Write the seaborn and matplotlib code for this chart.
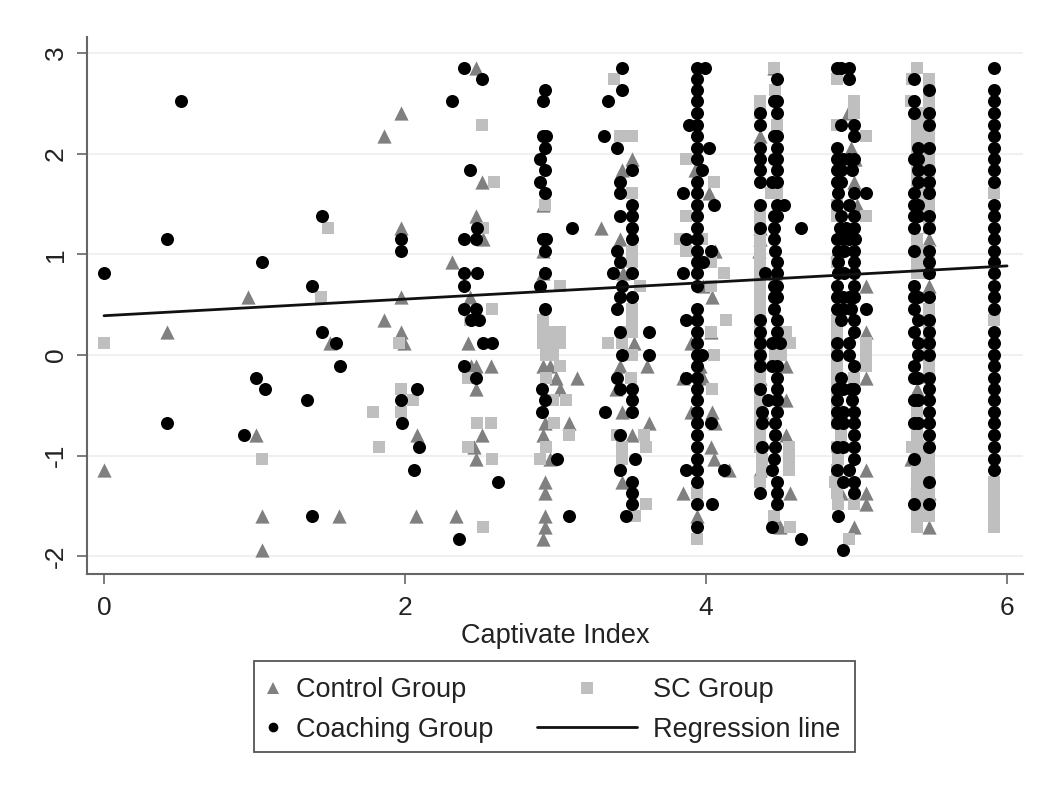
import pandas as pd
import matplotlib
matplotlib.use("Agg")
import matplotlib.pyplot as plt
from matplotlib.lines import Line2D
from matplotlib.patches import Rectangle
import seaborn as sns

# values, (captivate index, outcome)
coach_low = [(0, .81), (.51, 2.52), (.42, 1.15), (.42, -.68), (.93, -.80), (1.01, -.23), (1.07, -.34), (1.05, .92),
             (1.35, -.45), (1.38, .69), (1.38, -1.60), (1.45, 1.38), (1.45, .23), (1.54, .12), (1.57, -.11),
             (1.97, 1.15), (1.97, 1.03), (1.97, -.45), (2.08, -.34), (1.98, -.68), (2.09, -.91), (2.06, -1.14),
             (2.39, 2.85), (2.51, 2.74), (2.31, 2.52), (2.43, 1.84), (2.48, 1.26), (2.39, 1.15), (2.47, 1.15),
             (2.39, .81), (2.48, .81), (2.39, .69), (2.39, .46), (2.47, .46), (2.44, .35), (2.49, .35),
             (2.52, .12), (2.58, .12), (2.39, -.11), (2.47, -.23), (2.62, -1.26), (2.36, -1.83)]
coach_30 = [(2.93, 2.63), (2.92, 2.52), (2.92, 2.18), (2.94, 2.18), (2.93, 2.06), (2.90, 1.95), (2.93, 1.84),
            (2.90, 1.72), (2.93, 1.61), (2.92, 1.15), (2.94, 1.15), (2.93, 1.03), (2.93, .81), (2.90, .69),
            (2.93, .46), (2.91, -.34), (2.93, -.45), (2.91, -.57), (3.01, -1.03), (3.09, -1.60), (3.11, 1.26)]
coach_35 = [(3.44, 2.85), (3.44, 2.63), (3.35, 2.52), (3.32, 2.18), (3.41, 2.06), (3.51, 1.84), (3.43, 1.72),
            (3.43, 1.61), (3.51, 1.49), (3.43, 1.38), (3.51, 1.38), (3.51, 1.26), (3.51, 1.15), (3.41, 1.03),
            (3.43, .92), (3.38, .81), (3.51, .81), (3.44, .69), (3.43, .58), (3.51, .58), (3.41, .46),
            (3.43, .23), (3.62, .23), (3.44, 0), (3.62, 0), (3.41, -.23), (3.43, -.34), (3.51, -.34), (3.51, -.45),
            (3.33, -.57), (3.51, -.57), (3.43, -.80), (3.53, -1.03), (3.43, -1.14), (3.51, -1.26), (3.51, -1.37),
            (3.51, -1.48), (3.47, -1.60)]
coach_394 = [2.85, 2.74, 2.63, 2.52, 2.40, 2.29, 2.18, 2.06, 1.95, 1.72, 1.61, 1.49, 1.38, 1.26, 1.15, 1.03,
             .92, .81, .69, .46, .35, .23, .12, 0, -.11, -.23, -.34, -.45, -.57, -.68, -.80, -.91, -1.03, -1.14,
             -1.26, -1.48, -1.71]
coach_40 = [(3.99, 2.85), (3.89, 2.29), (4.02, 2.06), (3.97, 1.84), (3.85, 1.61), (4.05, 1.49), (3.87, 1.15),
            (4.03, 1.03), (3.98, .92), (3.85, .81), (3.87, .35), (3.97, 0), (3.87, -.23), (4.03, -.68),
            (3.87, -1.14), (4.12, -1.14), (4.04, -1.48)]
coach_436 = [2.40, 2.29, 2.06, 1.95, 1.84, 1.72, 1.49, 1.26, .35, .23, .12, 0, -.11, -.34, -1.37]
coach_447 = [2.74, 2.52, 2.40, 2.18, 2.06, 1.95, 1.84, 1.72, 1.49, 1.38, .92, .81, .69, .58, .35, .23, -.11, -.23,
             -.34, -.45, -.57, -1.26, -1.37, -1.48]
coach_44 = [(4.45, 2.52), (4.45, 2.18), (4.45, 1.95), (4.44, 1.72), (4.52, 1.49), (4.45, 1.38), (4.45, 1.26),
            (4.63, 1.26), (4.45, 1.15), (4.46, 1.03), (4.39, .81), (4.45, .69), (4.45, .58), (4.45, .46),
            (4.44, .12), (4.49, .12), (4.44, -.11), (4.41, -.45), (4.37, -.57), (4.37, -.68), (4.46, -.68),
            (4.46, -.80), (4.37, -.91), (4.46, -.91), (4.45, -1.03), (4.44, -1.14), (4.44, -1.71), (4.63, -1.83)]
coach_487 = [2.85, 2.06, 1.95, 1.84, 1.72, 1.49, 1.15, .69, .58, .46, .12, 0, -.34, -.45, -.57, -.68, -.91, -1.14]
coach_498 = [2.29, 2.18, 1.95, 1.61, 1.38, 1.26, 1.03, .92, .81, .69, .58, .35, .23, -.11, -.34, -.57, -.68, -.80,
             -.91, -1.03, -1.26, -1.37]
coach_49 = [(4.90, 2.85), (4.95, 2.85), (4.95, 2.74), (4.90, 2.29), (4.91, 1.95), (4.95, 1.95), (4.90, 1.84),
            (4.97, 1.84), (4.90, 1.72), (4.88, 1.61), (5.06, 1.61), (4.95, 1.49), (4.90, 1.38), (4.89, 1.26),
            (4.93, 1.26), (4.91, 1.15), (4.95, 1.15), (4.99, 1.15), (4.88, 1.03), (4.92, 1.03), (4.88, .92),
            (4.88, .81), (4.92, .81), (4.91, .58), (4.95, .58), (4.91, .46), (4.96, .46), (5.06, .46), (4.90, .35),
            (4.95, .12), (4.95, 0), (4.90, -.23), (4.91, -.34), (4.96, -.34), (4.97, -.45), (4.91, -.57),
            (4.91, -.68), (4.91, -.91), (4.95, -1.14), (4.91, -1.26), (4.88, -1.60), (4.91, -1.94)]
coach_548 = [2.63, 2.40, 2.29, 2.06, 1.84, 1.72, 1.61, 1.38, 1.26, 1.03, .92, .81, .58, .35, .23, .12, 0, -.23, -.34,
             -.45, -.57, -.68, -.80, -.91, -1.26, -1.48]
coach_540 = [2.74, 2.52, 2.40, 1.95, 1.61, 1.49, 1.38, 1.26, 1.03, .69, .58, .46, .23, -.11, -.23, -.45, -.68,
             -1.03, -1.48]
coach_541 = [2.06, 1.95, 1.84, 1.72, 1.49, 1.38, .58, .35, .12, 0, -.23, -.45, -.68]
coach_591 = [2.85, 2.63, 2.52, 2.40, 2.29, 2.18, 2.06, 1.95, 1.84, 1.72, 1.49, 1.38, 1.26, 1.15, 1.03, .92, .81, .69,
             .58, .46, .23, .12, 0, -.11, -.23, -.34, -.45, -.57, -.68, -.80, -.91, -1.03, -1.14]

control_pts = [(0, -1.14), (.42, .23), (.96, .58), (1.01, -.80), (1.05, -1.60), (1.05, -1.94), (1.50, .12), (1.56, -1.60),
               (1.86, 2.18), (1.97, 2.40), (1.97, 1.26), (1.97, .58), (1.86, .35), (1.97, .23), (1.99, .12),
               (2.08, -.80), (2.07, -1.60), (2.34, -1.60), (2.31, .92), (2.47, 2.85), (2.51, 1.72), (2.47, 1.38),
               (2.52, 1.15), (2.43, .58), (2.42, .12), (2.44, -.11), (2.47, -.11), (2.57, -.11), (2.47, -.34),
               (2.51, -.80), (2.46, -.91), (2.47, -1.03), (2.92, 1.49), (2.92, 1.03), (2.92, .81), (2.92, -.11),
               (2.96, -.11), (3.00, -.23), (3.03, -.34), (2.93, -.68), (2.92, -.80), (2.96, -1.03), (2.93, -1.26),
               (2.93, -1.37), (2.93, -1.60), (2.93, -1.71), (2.92, -1.83), (3.14, -.23), (3.09, -.68),
               (3.30, 1.26), (3.51, 1.95), (3.44, 1.84), (3.43, 1.15), (3.45, .81), (3.52, .12), (3.43, -.11),
               (3.61, -.11), (3.40, -.34), (3.44, -.57), (3.62, -.68), (3.51, -.80), (3.44, -1.26), (3.90, .12),
               (3.96, -.11), (3.85, -.23), (3.98, -.23), (3.90, -.57), (4.04, -.57), (4.06, -.68), (3.93, 1.84),
               (4.02, 1.61), (4.06, 1.03), (3.98, .69), (4.04, .58), (4.03, .23), (4.03, -.91), (4.05, -1.03),
               (4.15, -1.14), (3.85, -1.37), (3.94, -1.60), (4.45, 2.85), (4.36, 2.18), (4.36, 1.26), (4.36, 1.15),
               (4.35, 1.03), (4.46, .81), (4.53, -.11), (4.36, -.23), (4.53, -.45), (4.37, -.57), (4.53, -.80),
               (4.36, -1.14), (4.56, -1.37), (4.45, -1.60), (4.49, -1.71), (4.94, 2.40), (4.96, 2.06), (4.99, 1.95),
               (4.98, 1.72), (5.00, 1.49), (4.87, 1.03), (5.06, .69), (5.06, .23), (5.06, -.23), (5.06, -1.14),
               (4.90, -1.37), (5.06, -1.37), (5.06, -1.48), (4.98, -1.71), (5.48, 1.15), (5.48, .69), (5.40, -.34),
               (5.40, -.80), (5.36, -1.03), (5.40, -1.26), (5.48, -1.37), (5.48, -1.71)]

sc_pts = [(0, .12), (1.44, .58), (1.49, 1.26), (1.05, -1.03), (1.96, .12), (1.97, -.34), (2.05, -.45), (1.79, -.57),
          (1.97, -.57), (1.83, -.91), (2.51, 2.29), (2.59, 1.72), (2.52, 1.26), (2.58, .46), (2.43, .35),
          (2.42, -.23), (2.48, -.68), (2.57, -.68), (2.42, -.91), (2.58, -1.03), (2.52, -1.71), (2.93, 1.49),
          (2.92, .35), (2.92, .23), (2.92, .12), (3.03, .69), (2.98, .23), (2.98, .12), (2.94, 0), (2.98, 0),
          (3.03, .23), (3.03, .12), (3.03, -.11), (2.94, -.23), (3.07, -.45), (2.98, -.45), (2.99, -.68),
          (3.09, -.80), (2.94, -.91), (2.90, -1.03), (3.39, 2.74), (3.43, 2.18), (3.51, 2.18), (3.51, 1.61),
          (3.51, 1.03), (3.51, .92), (3.56, .69), (3.51, .46), (3.51, .35), (3.51, .23), (3.45, .23), (3.35, .12),
          (3.44, .12), (3.51, 0), (3.50, -.23), (3.59, -.80), (3.60, -.91), (3.44, -.91), (3.44, -1.03),
          (3.41, -.80), (3.60, -1.48), (3.53, -1.60), (3.87, 1.95), (4.05, 1.72), (3.87, 1.38), (3.83, 1.15),
          (3.97, 1.15), (3.87, 1.03), (4.03, .92), (4.12, .81), (4.03, .69), (4.13, .35), (4.03, .23), (4.05, 0),
          (4.04, -.34), (3.94, -1.37), (3.94, -1.83), (4.45, 2.85), (4.46, 2.63), (4.36, 2.52), (4.47, 2.29),
          (4.43, 1.61), (4.47, 1.61), (4.36, 1.38), (4.36, 1.15), (4.36, 1.03), (4.36, .81), (4.36, .69), (4.36, .58),
          (4.36, .46), (4.36, .35), (4.36, .23), (4.36, .12), (4.53, .23), (4.56, .12), (4.46, 0), (4.50, 0),
          (4.36, -.80), (4.36, -.91), (4.37, -1.03), (4.37, -1.14), (4.55, -.91), (4.55, -1.03), (4.55, -1.14),
          (4.45, -1.60), (4.56, -1.71), (4.87, 2.74), (4.98, 2.52), (4.98, 2.40), (4.87, 2.29), (5.06, 2.18), (5.06, 1.38),
          (5.06, .12), (5.06, 0), (5.06, -.11), (4.87, -.11), (4.87, -.23), (4.98, -.23), (4.90, -.80), (4.88, -1.03),
          (4.86, -1.26), (4.88, -1.48), (4.98, -1.48), (4.95, -1.83), (5.40, 2.85), (5.36, 2.52), (5.48, 2.74),
          (5.37, 2.74), (5.48, 2.18), (5.40, 2.18), (5.48, 1.95), (5.40, 1.84), (5.40, 1.72), (5.48, 1.49),
          (5.48, .92), (5.40, 1.03), (5.40, .92), (5.48, .46), (5.48, -.11), (5.40, -.57), (5.37, -.91), (5.48, -1.03),
          (5.48, -1.14), (5.48, -1.26), (5.40, -1.14), (5.40, -1.37), (5.48, -1.37), (5.40, -1.71), (5.91, 1.61),
          (5.91, .35), (5.91, -1.26), (5.91, -1.37), (5.91, -1.48), (5.91, -1.60), (5.91, -1.71)]
sc_436 = [2.40, 1.26, .92, 0, -.11, -.23, -.34, -.45, -.57, -.68, -1.26]
sc_487 = [1.49, 1.38, .92, .35, .23, .12, 0, -.34, -.45, -.57, -.68, -.91, -1.14, -1.37]
sc_540 = [2.40, 2.29, 2.06, 1.95, 1.61, 1.49, 1.38, 1.15, .81, -.80, -.91, -1.03, -1.26, -1.48, -1.60]
sc_548 = [2.63, 2.52, 2.40, 2.29, 2.06, 1.84, 1.72, 1.61, 1.38, 1.26, 1.03, .81, .35, .23, .12, 0, -.23, -.91, -1.48, -1.60]

line_x = [0, 6]
line_y = [.39, .885]
x_ticks = [0, 2, 4, 6]
y_ticks = [-2, -1, 0, 1, 2, 3]

coach_rows = coach_low + coach_30 + coach_35 + coach_40 + coach_44 + coach_49
for x, ys in [(3.94, coach_394), (4.36, coach_436), (4.47, coach_447), (4.87, coach_487), (4.98, coach_498),
              (5.48, coach_548), (5.38, coach_540), (5.41, coach_541), (5.91, coach_591)]:
    coach_rows = coach_rows + [(x, y) for y in ys]
sc_rows = list(sc_pts)
for x, ys in [(4.36, sc_436), (4.87, sc_487), (5.40, sc_540), (5.48, sc_548)]:
    sc_rows = sc_rows + [(x, y) for y in ys]

coach = pd.DataFrame(coach_rows, columns=["x", "y"])
control = pd.DataFrame(control_pts, columns=["x", "y"])
sc = pd.DataFrame(sc_rows, columns=["x", "y"])

sns.set_style("white")
plt.rcParams['font.family'] = ['Liberation Sans', 'DejaVu Sans']
plt.rcParams['axes.unicode_minus'] = False
txt = "#222222"

fig = plt.figure(figsize=(10.37, 7.85), dpi=100)
ax = fig.add_axes([87 / 1037, 1 - 574 / 785, 936 / 1037, 537 / 785])

sns.scatterplot(data=control, x="x", y="y", marker="^", s=105, color="#808080", linewidth=0, ax=ax, zorder=3)
sns.scatterplot(data=sc, x="x", y="y", marker="s", s=68, color="#bfbfbf", linewidth=0, ax=ax, zorder=4)
sns.scatterplot(data=coach, x="x", y="y", marker="o", s=88, color="black", linewidth=0, ax=ax, zorder=5)
sns.lineplot(x=line_x, y=line_y, color="#111111", linewidth=2, ax=ax, zorder=6)

ax.set_xlim(-.113, 6.106)
ax.set_ylim(-2.177, 3.16)
ax.set_xticks(x_ticks)
ax.set_yticks(y_ticks)
ax.grid(axis="y", color="#f0f0f0", linewidth=1.5)
ax.set_axisbelow(True)
for side in ["top", "right"]:
    ax.spines[side].set_visible(False)
for side in ["left", "bottom"]:
    ax.spines[side].set_color("#666666")
    ax.spines[side].set_linewidth(1.5)
ax.tick_params(axis="x", bottom=True, length=7, width=1.2, color="#666666", labelsize=19, labelcolor=txt, pad=9)
ax.tick_params(axis="y", left=True, length=7, width=1.2, color="#666666", labelsize=19, labelcolor=txt, pad=7)
plt.setp(ax.get_yticklabels(), rotation=90, va="center")
ax.set_xlabel("Captivate Index", fontsize=19.5, color=txt, labelpad=2)
ax.set_ylabel("")

# the legend has a narrow and a wide handle column, so two frameless legends in one box
fig.add_artist(Rectangle((254 / 1037, 1 - 752 / 785), 601 / 1037, 91 / 785, transform=fig.transFigure,
                         facecolor="white", edgecolor="#555555", linewidth=1.3))
left = [Line2D([], [], marker="^", color="#808080", linestyle="", markersize=8, markeredgewidth=0, label="Control Group"),
        Line2D([], [], marker="o", color="black", linestyle="", markersize=7, markeredgewidth=0, label="Coaching Group")]
right = [Line2D([], [], marker="s", color="#bfbfbf", linestyle="", markersize=8, markeredgewidth=0, label="SC Group"),
         Line2D([], [], color="#111111", linewidth=2, label="Regression line")]
leg1 = fig.legend(handles=left, loc="center left", bbox_to_anchor=(262 / 1037, 1 - 710 / 785), frameon=False, fontsize=19.5,
                  handlelength=.8, handletextpad=.45, labelspacing=.5, borderpad=0, borderaxespad=0, labelcolor=txt)
leg2 = fig.legend(handles=right, loc="center left", bbox_to_anchor=(537 / 1037, 1 - 710 / 785), frameon=False, fontsize=19.5,
                  handlelength=3.7, handletextpad=.6, labelspacing=.5, borderpad=0, borderaxespad=0, labelcolor=txt)

fig.savefig("out.png", dpi=100)
